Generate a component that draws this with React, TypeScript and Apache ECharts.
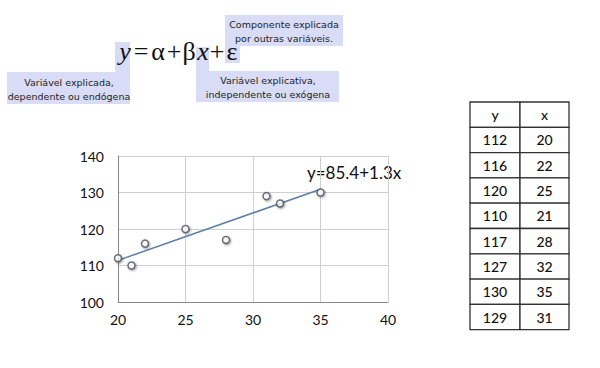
import React, { useEffect, useRef } from "react";
import * as echarts from "echarts";

const tableHeader = ["y", "x"];
const yValues = [112, 116, 120, 110, 117, 127, 130, 129];
const xValues = [20, 22, 25, 21, 28, 32, 35, 31];
const trendX = [20, 35];
const trendY = [111.4, 130.9];
const trendLabel = "y=85.4+1.3x";
const noteEpsilon = ["Componente explicada", "por outras variáveis."];
const noteY = ["Variável explicada,", "dependente ou endógena"];
const noteX = ["Variável explicativa,", "independente ou exógena"];
const formulaParts = [
  { t: "y", italic: true, cx: 125 },
  { t: "=", italic: false, cx: 141 },
  { t: "α", italic: false, cx: 158 },
  { t: "+", italic: false, cx: 174 },
  { t: "β", italic: false, cx: 189 },
  { t: "x", italic: true, cx: 203 },
  { t: "+", italic: false, cx: 217 },
  { t: "ε", italic: false, cx: 232 },
];

const HL = "#d9dcf7";
const SANS = "'Lato', 'Open Sans', sans-serif";
const NOTE_FONT = "'DejaVu Sans', sans-serif";

export default function App() {
  const ref = useRef<HTMLDivElement>(null);
  useEffect(() => {
    if (!ref.current) return;
    const chart = echarts.init(ref.current, null, { renderer: "svg" });
    const graphics: any[] = [];
    graphics.push({
      type: "polygon",
      silent: true,
      shape: { points: [[7, 72], [115, 72], [115, 42], [130, 42], [130, 104], [7, 104]] },
      style: { fill: HL },
    });
    graphics.push({
      type: "polygon",
      silent: true,
      shape: { points: [[196, 47], [209, 47], [209, 71], [339, 71], [339, 102], [196, 102]] },
      style: { fill: HL },
    });
    graphics.push({
      type: "polygon",
      silent: true,
      shape: { points: [[225, 15], [343, 15], [343, 46], [240, 46], [240, 63], [225, 63]] },
      style: { fill: HL },
    });
    formulaParts.forEach((p) => {
      graphics.push({
        type: "text",
        x: p.cx,
        y: 51,
        style: {
          text: p.t,
          fontFamily: "'Liberation Serif', 'DejaVu Serif', serif",
          fontStyle: p.italic ? "italic" : "normal",
          fontSize: 26,
          fill: "#111",
          textAlign: "center",
          textVerticalAlign: "middle",
        },
      });
    });
    const note = (lines: string[], cx: number, y0: number) => {
      lines.forEach((l, i) => {
        graphics.push({
          type: "text",
          x: cx,
          y: y0 + i * 14,
          style: {
            text: l,
            fontFamily: NOTE_FONT,
            fontSize: 9.5,
            fill: "#222",
            textAlign: "center",
            textVerticalAlign: "middle",
          },
        });
      });
    };
    note(noteEpsilon, 284, 24);
    note(noteY, 69, 82);
    note(noteX, 268, 80);
    graphics.push({
      type: "text",
      x: 307,
      y: 172,
      style: {
        text: trendLabel,
        fontFamily: SANS,
        fontSize: 17,
        fill: "#111",
        textAlign: "left",
        textVerticalAlign: "middle",
      },
    });
    const tL = 470, tM = 520, tR = 569, tT = 102, rowH = 25.3;
    const rows: string[][] = [tableHeader, ...yValues.map((v, i) => [String(v), String(xValues[i])])];
    rows.forEach((r, i) => {
      const y = tT + i * rowH;
      graphics.push({
        type: "rect",
        shape: { x: tL, y, width: tM - tL, height: rowH },
        style: { fill: "#fff", stroke: "#333", lineWidth: 1.3 },
      });
      graphics.push({
        type: "rect",
        shape: { x: tM, y, width: tR - tM, height: rowH },
        style: { fill: "#fff", stroke: "#333", lineWidth: 1.3 },
      });
      graphics.push({
        type: "text",
        x: (tL + tM) / 2,
        y: y + rowH / 2,
        style: { text: r[0], fontFamily: SANS, fontSize: 14, fontWeight: 500, fill: "#111", textAlign: "center", textVerticalAlign: "middle" },
      });
      graphics.push({
        type: "text",
        x: (tM + tR) / 2,
        y: y + rowH / 2,
        style: { text: r[1], fontFamily: SANS, fontSize: 14, fontWeight: 500, fill: "#111", textAlign: "center", textVerticalAlign: "middle" },
      });
    });

    chart.setOption({
      animation: false,
      backgroundColor: "#fff",
      grid: { left: 118, top: 156, width: 270, height: 146, containLabel: false },
      xAxis: {
        type: "value",
        min: 20,
        max: 40,
        interval: 5,
        axisLine: { show: true, lineStyle: { color: "#888", width: 1 } },
        axisTick: { show: false },
        splitLine: { show: true, lineStyle: { color: "#cfcfcf", width: 1 } },
        axisLabel: { color: "#111", fontFamily: SANS, fontSize: 14, margin: 10 },
      },
      yAxis: {
        type: "value",
        min: 100,
        max: 140,
        interval: 10,
        axisLine: { show: true, lineStyle: { color: "#888", width: 1 } },
        axisTick: { show: false },
        splitLine: { show: true, lineStyle: { color: "#cfcfcf", width: 1 } },
        axisLabel: { color: "#111", fontFamily: SANS, fontSize: 14, margin: 14 },
      },
      series: [
        {
          type: "line",
          data: trendX.map((x, i) => [x, trendY[i]]),
          showSymbol: false,
          symbol: "none",
          lineStyle: { color: "#5a7fa8", width: 1.5 },
          z: 2,
        },
        {
          type: "scatter",
          data: xValues.map((x, i) => [x, yValues[i]]),
          symbol: "circle",
          symbolSize: 7,
          itemStyle: {
            color: "#fff",
            borderColor: "#4a4f5a",
            borderWidth: 1.5,
            shadowBlur: 2,
            shadowOffsetX: 1,
            shadowOffsetY: 1,
            shadowColor: "rgba(0,0,0,0.45)",
          },
          z: 3,
        },
      ],
      graphic: graphics,
    });
    return () => chart.dispose();
  }, []);
  return <div ref={ref} style={{ width: 600, height: 368, position: "absolute", left: 0, top: 0 }} />;
}
